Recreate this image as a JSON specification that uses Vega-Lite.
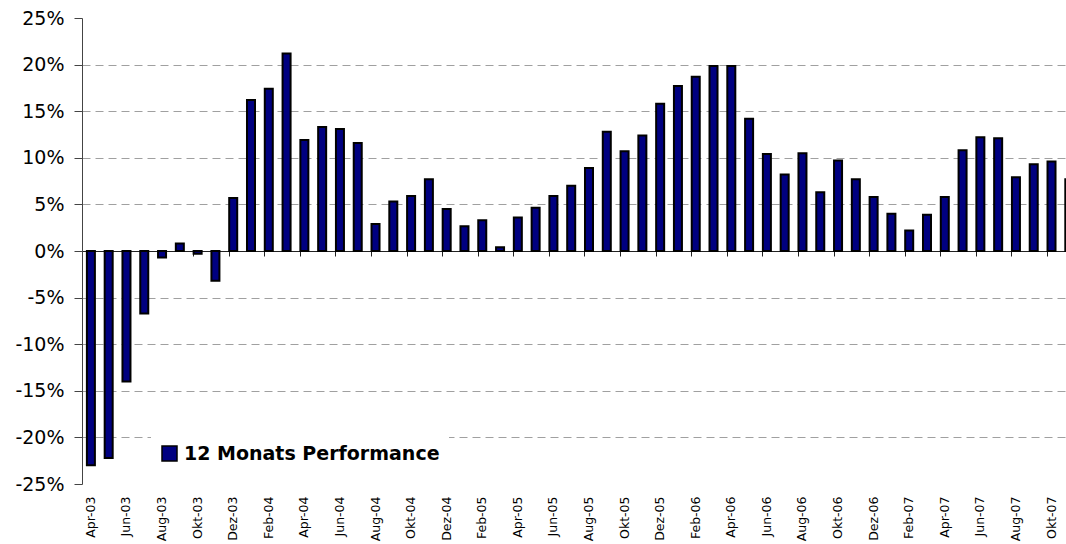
{
  "$schema": "https://vega.github.io/schema/vega-lite/v6.json",
  "width": 984,
  "height": 466,
  "autosize": {"type": "none"},
  "padding": {"left": 82, "top": 18, "right": 0, "bottom": 60},
  "background": "white",
  "config": {"view": {"stroke": null}, "font": "DejaVu Sans"},
  "data": {"values": [
    {"month": "Apr-03", "perf": -0.230},
    {"month": "Mai-03", "perf": -0.222},
    {"month": "Jun-03", "perf": -0.140},
    {"month": "Jul-03", "perf": -0.067},
    {"month": "Aug-03", "perf": -0.007},
    {"month": "Sep-03", "perf": 0.008},
    {"month": "Okt-03", "perf": -0.003},
    {"month": "Nov-03", "perf": -0.032},
    {"month": "Dez-03", "perf": 0.057},
    {"month": "Jan-04", "perf": 0.162},
    {"month": "Feb-04", "perf": 0.174},
    {"month": "Mär-04", "perf": 0.212},
    {"month": "Apr-04", "perf": 0.119},
    {"month": "Mai-04", "perf": 0.133},
    {"month": "Jun-04", "perf": 0.131},
    {"month": "Jul-04", "perf": 0.116},
    {"month": "Aug-04", "perf": 0.029},
    {"month": "Sep-04", "perf": 0.053},
    {"month": "Okt-04", "perf": 0.059},
    {"month": "Nov-04", "perf": 0.077},
    {"month": "Dez-04", "perf": 0.045},
    {"month": "Jan-05", "perf": 0.0265},
    {"month": "Feb-05", "perf": 0.033},
    {"month": "Mär-05", "perf": 0.004},
    {"month": "Apr-05", "perf": 0.036},
    {"month": "Mai-05", "perf": 0.0465},
    {"month": "Jun-05", "perf": 0.059},
    {"month": "Jul-05", "perf": 0.070},
    {"month": "Aug-05", "perf": 0.089},
    {"month": "Sep-05", "perf": 0.128},
    {"month": "Okt-05", "perf": 0.107},
    {"month": "Nov-05", "perf": 0.124},
    {"month": "Dez-05", "perf": 0.158},
    {"month": "Jan-06", "perf": 0.177},
    {"month": "Feb-06", "perf": 0.187},
    {"month": "Mär-06", "perf": 0.1985},
    {"month": "Apr-06", "perf": 0.1985},
    {"month": "Mai-06", "perf": 0.142},
    {"month": "Jun-06", "perf": 0.104},
    {"month": "Jul-06", "perf": 0.082},
    {"month": "Aug-06", "perf": 0.105},
    {"month": "Sep-06", "perf": 0.063},
    {"month": "Okt-06", "perf": 0.097},
    {"month": "Nov-06", "perf": 0.077},
    {"month": "Dez-06", "perf": 0.058},
    {"month": "Jan-07", "perf": 0.040},
    {"month": "Feb-07", "perf": 0.022},
    {"month": "Mär-07", "perf": 0.039},
    {"month": "Apr-07", "perf": 0.058},
    {"month": "Mai-07", "perf": 0.108},
    {"month": "Jun-07", "perf": 0.122},
    {"month": "Jul-07", "perf": 0.121},
    {"month": "Aug-07", "perf": 0.079},
    {"month": "Sep-07", "perf": 0.093},
    {"month": "Okt-07", "perf": 0.096},
    {"month": "Nov-07", "perf": 0.077}
  ]},
  "mark": {"type": "bar", "stroke": "black", "strokeWidth": 2},
  "encoding": {
    "x": {
      "field": "month",
      "type": "ordinal",
      "sort": null,
      "scale": {"range": [0, 996.2], "paddingInner": 0.55, "paddingOuter": 0.275},
      "axis": {
        "title": null,
        "values": ["Apr-03", "Jun-03", "Aug-03", "Okt-03", "Dez-03", "Feb-04", "Apr-04", "Jun-04", "Aug-04", "Okt-04", "Dez-04", "Feb-05", "Apr-05", "Jun-05", "Aug-05", "Okt-05", "Dez-05", "Feb-06", "Apr-06", "Jun-06", "Aug-06", "Okt-06", "Dez-06", "Feb-07", "Apr-07", "Jun-07", "Aug-07", "Okt-07"],
        "bandPosition": 0,
        "offset": -233,
        "tickSize": 5,
        "tickColor": "#222222",
        "domainColor": "#222222",
        "labelAngle": 270,
        "labelAlign": "right",
        "labelBaseline": "middle",
        "labelFontSize": 12.5,
        "labelPadding": 240,
        "labelColor": "black",
        "labelOverlap": false,
        "grid": false
      }
    },
    "y": {
      "field": "perf",
      "type": "quantitative",
      "scale": {"domain": [-0.25, 0.25], "nice": false},
      "axis": {
        "title": null,
        "values": [-0.25, -0.2, -0.15, -0.1, -0.05, 0, 0.05, 0.1, 0.15, 0.2, 0.25],
        "labelExpr": "round(datum.value*100) + '%'",
        "tickSize": 8,
        "labelPadding": 10,
        "labelFontSize": 19,
        "labelColor": "black",
        "domainColor": "#444444",
        "tickColor": "#444444",
        "grid": true,
        "gridDash": [8, 5],
        "gridColor": "#a0a0a0",
        "gridOpacity": {"condition": {"test": "abs(datum.value) < 0.001 || abs(datum.value) > 0.24", "value": 0}, "value": 1}
      }
    },
    "color": {
      "datum": "12 Monats Performance",
      "type": "nominal",
      "scale": {"range": ["#000080"]},
      "legend": {
        "title": null,
        "orient": "none",
        "legendX": 69,
        "legendY": 417,
        "fillColor": "white",
        "padding": 9,
        "symbolType": "square",
        "symbolSize": 225,
        "symbolStrokeColor": "black",
        "symbolStrokeWidth": 1.5,
        "labelFontSize": 19,
        "labelFontWeight": "bold",
        "labelColor": "black",
        "labelOffset": 5,
        "labelLimit": 500
      }
    }
  }
}
